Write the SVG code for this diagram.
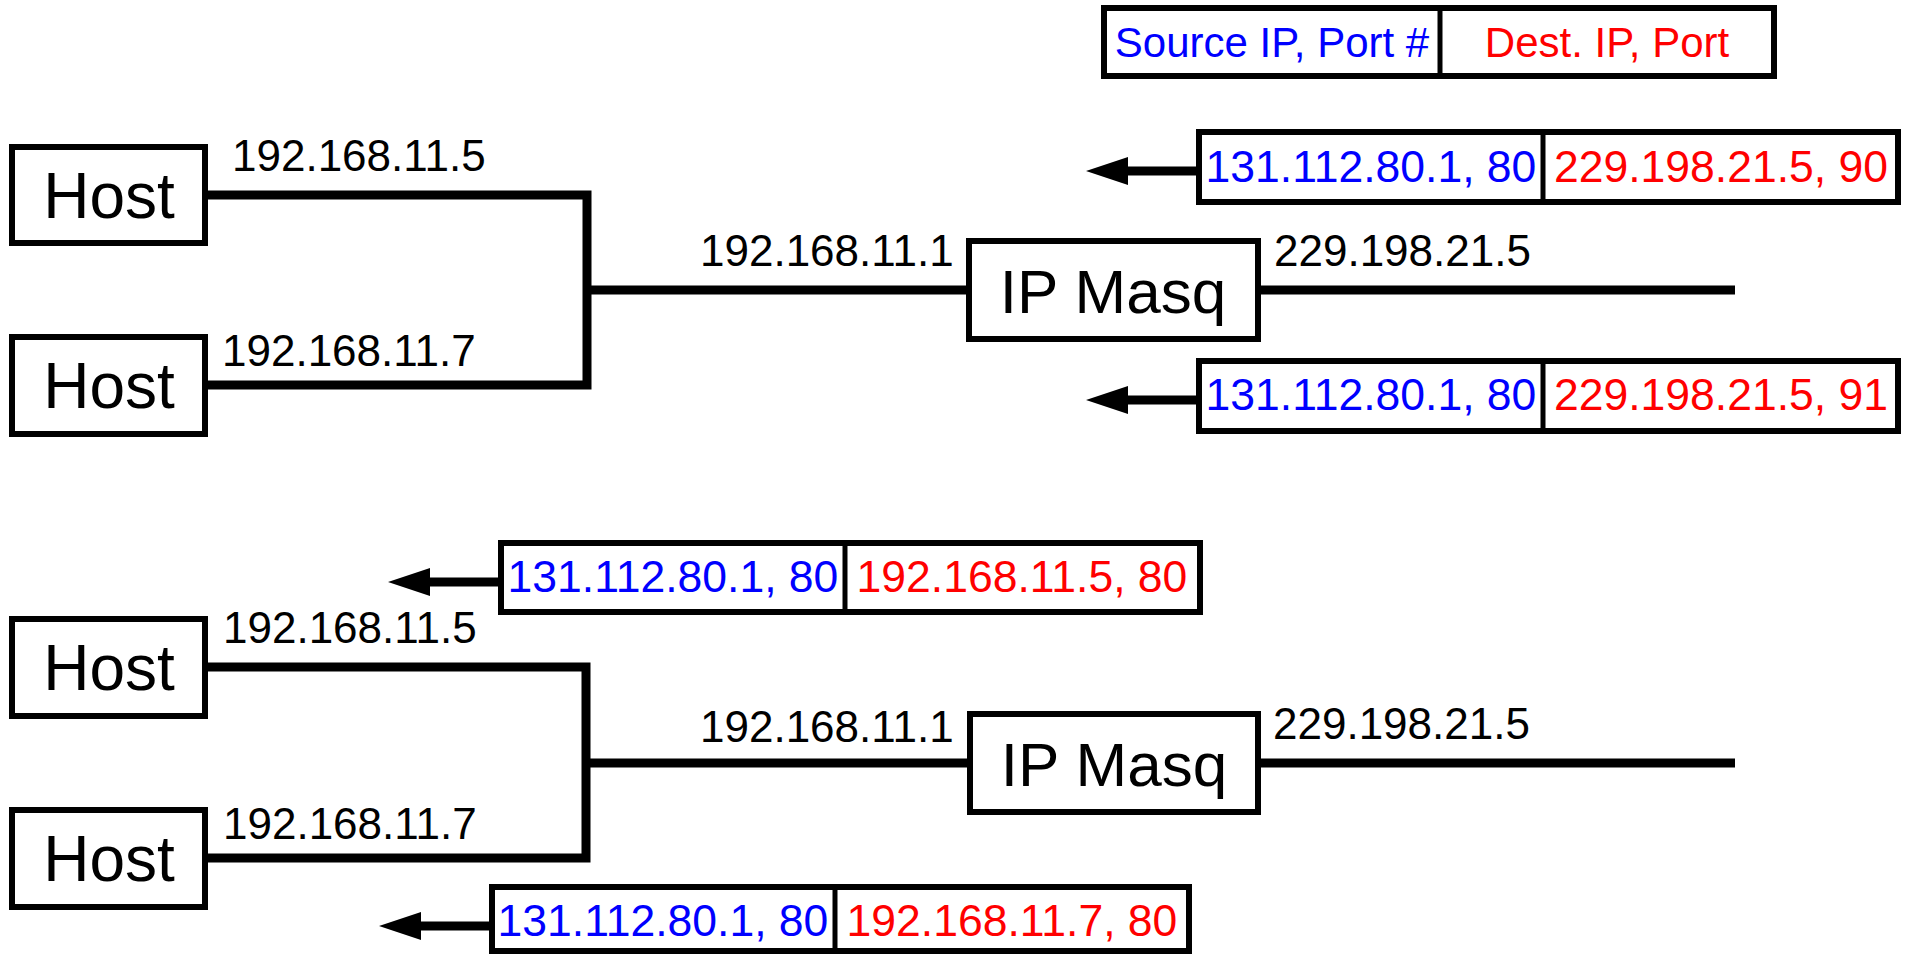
<svg xmlns="http://www.w3.org/2000/svg" width="1905" height="954" viewBox="0 0 1905 954">
<style>
  .box{fill:#fff;stroke:#000;stroke-width:6}
  .wire{fill:none;stroke:#000;stroke-width:9;stroke-linejoin:miter}
  .div{stroke:#000;stroke-width:5}
  text{font-family:"Liberation Sans",Arial,sans-serif}
  .lbl{font-size:44px;fill:#000}
  .big{font-size:64px;fill:#000;text-anchor:middle}
  .pk{font-size:44.5px;text-anchor:middle}
  .src{fill:#0000ff}
  .dst{fill:#ff0000}
  .arrow{fill:#000}
</style>
<rect width="1905" height="954" fill="#fff"/>

<g id="legend">
  <rect class="box" x="1104" y="8" width="670" height="68"/>
  <line class="div" x1="1440" y1="8" x2="1440" y2="76"/>
  <text class="src" x="1272" y="57" style="font-size:42px;text-anchor:middle">Source IP, Port #</text>
  <text class="dst" x="1607" y="57" style="font-size:42px;text-anchor:middle">Dest. IP, Port</text>
</g>

<g id="connectors">
  <path class="wire" d="M205,195 H587 V385 H205"/>
  <path class="wire" d="M587,290 H969"/>
  <path class="wire" d="M1258,290 H1735"/>
  <path class="wire" d="M205,667 H586 V858 H205"/>
  <path class="wire" d="M586,763 H970"/>
  <path class="wire" d="M1258,763 H1735"/>
  <path class="wire" d="M1199,171 H1124"/>
  <polygon class="arrow" points="1086,171 1128,157 1128,185"/>
  <path class="wire" d="M1199,400 H1124"/>
  <polygon class="arrow" points="1086,400 1128,386 1128,414"/>
  <path class="wire" d="M501,582 H425"/>
  <polygon class="arrow" points="388,582 430,568 430,596"/>
  <path class="wire" d="M492,926 H416"/>
  <polygon class="arrow" points="379,926 421,912 421,940"/>
</g>

<g id="host1">
  <rect class="box" x="12" y="147" width="193" height="96"/>
  <text class="big" x="109" y="218">Host</text>
</g>
<g id="host2">
  <rect class="box" x="12" y="337" width="193" height="97"/>
  <text class="big" x="109" y="408">Host</text>
</g>
<g id="ipmasq1">
  <rect class="box" x="969" y="241" width="289" height="98"/>
  <text class="big" x="1113" y="313" style="font-size:62px">IP Masq</text>
</g>
<g id="host3">
  <rect class="box" x="12" y="619" width="193" height="97"/>
  <text class="big" x="109" y="690">Host</text>
</g>
<g id="host4">
  <rect class="box" x="12" y="810" width="193" height="97"/>
  <text class="big" x="109" y="881">Host</text>
</g>
<g id="ipmasq2">
  <rect class="box" x="970" y="714" width="288" height="98"/>
  <text class="big" x="1114" y="786" style="font-size:62px">IP Masq</text>
</g>

<g id="labels">
  <text class="lbl" x="232" y="171">192.168.11.5</text>
  <text class="lbl" x="222" y="366">192.168.11.7</text>
  <text class="lbl" x="700" y="266">192.168.11.1</text>
  <text class="lbl" x="1274" y="266">229.198.21.5</text>
  <text class="lbl" x="223" y="643">192.168.11.5</text>
  <text class="lbl" x="223" y="839">192.168.11.7</text>
  <text class="lbl" x="700" y="742">192.168.11.1</text>
  <text class="lbl" x="1273" y="739">229.198.21.5</text>
</g>

<g id="packet1">
  <rect class="box" x="1199" y="132" width="699" height="70"/>
  <line class="div" x1="1543" y1="132" x2="1543" y2="202"/>
  <text class="pk src" x="1371" y="182">131.112.80.1, 80</text>
  <text class="pk dst" x="1721" y="182">229.198.21.5, 90</text>
</g>
<g id="packet2">
  <rect class="box" x="1199" y="361" width="699" height="70"/>
  <line class="div" x1="1543" y1="361" x2="1543" y2="431"/>
  <text class="pk src" x="1371" y="410">131.112.80.1, 80</text>
  <text class="pk dst" x="1721" y="410">229.198.21.5, 91</text>
</g>
<g id="packet3">
  <rect class="box" x="501" y="543" width="699" height="69"/>
  <line class="div" x1="845" y1="543" x2="845" y2="612"/>
  <text class="pk src" x="673" y="592">131.112.80.1, 80</text>
  <text class="pk dst" x="1022" y="592">192.168.11.5, 80</text>
</g>
<g id="packet4">
  <rect class="box" x="492" y="887" width="697" height="64"/>
  <line class="div" x1="835" y1="887" x2="835" y2="951"/>
  <text class="pk src" x="663" y="936">131.112.80.1, 80</text>
  <text class="pk dst" x="1012" y="936">192.168.11.7, 80</text>
</g>
</svg>
